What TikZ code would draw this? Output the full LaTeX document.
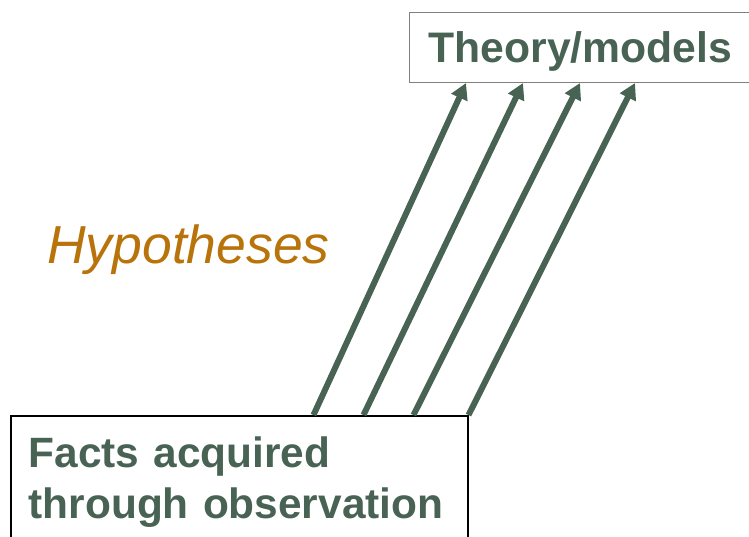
\documentclass[tikz,border=0pt]{standalone}
\usepackage{fontspec}
\setmainfont{Liberation Sans}
\usetikzlibrary{arrows.meta}
\definecolor{obsgreen}{RGB}{72,99,84}
\definecolor{hypbrown}{RGB}{184,115,10}

\begin{document}
\begin{tikzpicture}[
  x=1pt, y=-1pt,
  theorybox/.style={draw=gray, line width=1pt, anchor=north west, minimum height=70pt, inner xsep=19pt, text width=340pt, align=left, text height=30pt, text depth=0pt, text=obsgreen, font=\fontsize{42.7}{50}\selectfont\bfseries},
  factbox/.style={draw=black, line width=1.5pt, anchor=north west, inner xsep=18pt, inner ysep=21pt, text width=421pt, align=left, text=obsgreen, font=\fontsize{42.4}{51}\selectfont\bfseries},
  hyplabel/.style={anchor=base west, inner sep=0pt, text=hypbrown, font=\fontsize{53.5}{64}\selectfont\itshape},
  upline/.style={draw=obsgreen, line width=6pt, -{Triangle[length=16pt,width=17pt]}}
]
  \useasboundingbox (0,0) rectangle (749,536);
  \clip (0,0) rectangle (749,536);
  \node[theorybox] (theory) at (409,12) {Theory/models};
  \node[factbox] (facts) at (10,415) {Facts acquired\\through observation};
  \node[hyplabel] (hyp) at (47,263) {Hypotheses};
  \foreach \s/\e in {-155/57, -105/114, -55/171, 0/226}
    \draw[upline] ([xshift=\s pt]facts.north east) -- ([xshift=\e pt]theory.south west);
\end{tikzpicture}
\end{document}
